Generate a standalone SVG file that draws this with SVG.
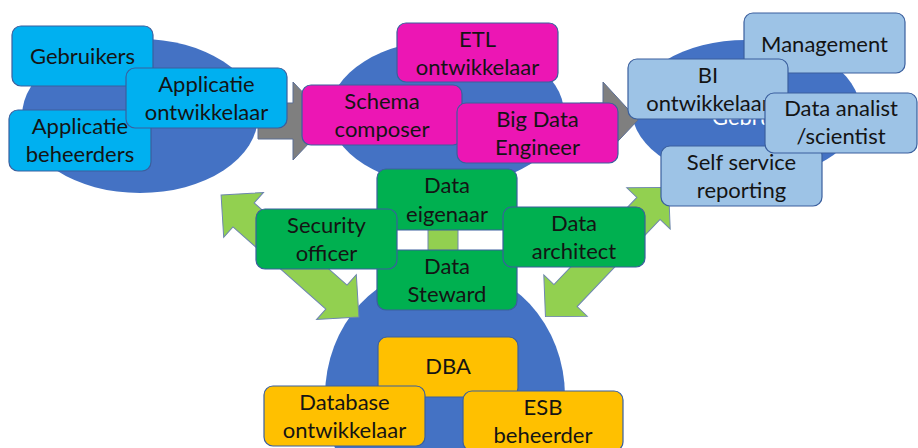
<svg xmlns="http://www.w3.org/2000/svg" width="918" height="448" viewBox="0 0 918 448">
  <style>
    .area { fill: #4472C4; }
    .box { stroke: #3A5F9E; stroke-width: 1.2; }
    .cyan { fill: #00B0F0; }
    .mag { fill: #EC16B4; }
    .pale { fill: #9DC3E6; }
    .grn { fill: #00B050; }
    .org { fill: #FFC000; }
    .flow { fill: #7F7F7F; stroke: #5B6E96; stroke-width: 1; }
    .link { fill: #92D050; stroke: #6E86B0; stroke-width: 1; }
    .lbl { font-family: Lato, "Liberation Sans", sans-serif; font-size: 22px; text-anchor: middle; fill: #141414; }
    .area-lbl { font-family: Lato, "Liberation Sans", sans-serif; font-size: 22px; fill: #FFFFFF; }
  </style>
  <defs>
    <!-- double-headed block arrow, tips at x = -92 and x = 92 -->
    <polygon id="dbl" points="-92,0 -62,-30 -62,-16 62,-16 62,-30 92,0 62,30 62,16 -62,16 -62,30"/>
  </defs>

  <!-- layer areas -->
  <g id="areas">
    <ellipse class="area" cx="140" cy="116" rx="118" ry="77"/>
    <ellipse class="area" cx="447" cy="113" rx="117" ry="73"/>
    <ellipse class="area" cx="746" cy="110" rx="114" ry="70"/>
    <ellipse class="area" cx="445" cy="396" rx="120" ry="130"/>
    <text class="area-lbl" x="712" y="125">Gebruikers</text>
  </g>

  <!-- connectors -->
  <g id="connectors">
    <polygon class="flow" points="258,103 293,103 293,82 330,121 293,160 293,139 258,139"/>
    <polygon class="flow" points="580,103 603,103 603,82 638,120 603,157 603,139 580,139"/>
    <use href="#dbl" class="link" transform="translate(290,256) rotate(41.5)"/>
    <use href="#dbl" class="link" transform="translate(607,252) rotate(-46.4) scale(0.97,1)"/>
    <rect class="link" x="428" y="222" width="30" height="36"/>
  </g>

  <!-- application layer -->
  <g id="n-gebruikers">
    <rect class="box cyan" x="12" y="26" width="141" height="60" rx="9"/>
    <text class="lbl" x="82.5" y="64">Gebruikers</text>
  </g>
  <g id="n-app-beheerders">
    <rect class="box cyan" x="9" y="110" width="142" height="61" rx="9"/>
    <text class="lbl" x="80" y="134">Applicatie</text>
    <text class="lbl" x="80" y="162">beheerders</text>
  </g>
  <g id="n-app-ontwikkelaar">
    <rect class="box cyan" x="126" y="68" width="161" height="60" rx="9"/>
    <text class="lbl" x="206.5" y="92">Applicatie</text>
    <text class="lbl" x="206.5" y="120">ontwikkelaar</text>
  </g>

  <!-- integration layer -->
  <g id="n-etl">
    <rect class="box mag" x="397" y="23" width="161" height="59" rx="9"/>
    <text class="lbl" x="477.5" y="47">ETL</text>
    <text class="lbl" x="477.5" y="75">ontwikkelaar</text>
  </g>
  <g id="n-schema">
    <rect class="box mag" x="302" y="85" width="160" height="60" rx="9"/>
    <text class="lbl" x="382" y="109">Schema</text>
    <text class="lbl" x="382" y="137">composer</text>
  </g>
  <g id="n-bigdata">
    <rect class="box mag" x="457" y="103" width="161" height="60" rx="9"/>
    <text class="lbl" x="537.5" y="127">Big Data</text>
    <text class="lbl" x="537.5" y="155">Engineer</text>
  </g>

  <!-- consumer layer -->
  <g id="n-management">
    <rect class="box pale" x="744" y="13" width="161" height="60" rx="9"/>
    <text class="lbl" x="824.5" y="52">Management</text>
  </g>
  <g id="n-bi">
    <rect class="box pale" x="628" y="59" width="160" height="60" rx="9"/>
    <text class="lbl" x="708" y="83">BI</text>
    <text class="lbl" x="708" y="111">ontwikkelaar</text>
  </g>
  <g id="n-self-service">
    <rect class="box pale" x="661" y="146" width="161" height="60" rx="9"/>
    <text class="lbl" x="741.5" y="170">Self service</text>
    <text class="lbl" x="741.5" y="198">reporting</text>
  </g>
  <g id="n-analist">
    <rect class="box pale" x="765" y="93" width="152" height="60" rx="9"/>
    <text class="lbl" x="841" y="116">Data analist</text>
    <text class="lbl" x="841" y="144">/scientist</text>
  </g>

  <!-- governance -->
  <g id="n-eigenaar">
    <rect class="box grn" x="377" y="169" width="140" height="61" rx="9"/>
    <text class="lbl" x="447" y="193">Data</text>
    <text class="lbl" x="447" y="222">eigenaar</text>
  </g>
  <g id="n-steward">
    <rect class="box grn" x="377" y="250" width="140" height="60" rx="9"/>
    <text class="lbl" x="447" y="274">Data</text>
    <text class="lbl" x="447" y="302">Steward</text>
  </g>
  <g id="n-security">
    <rect class="box grn" x="256" y="209" width="141" height="60" rx="9"/>
    <text class="lbl" x="326.5" y="233">Security</text>
    <text class="lbl" x="326.5" y="261">officer</text>
  </g>
  <g id="n-architect">
    <rect class="box grn" x="503" y="207" width="142" height="60" rx="9"/>
    <text class="lbl" x="574" y="231">Data</text>
    <text class="lbl" x="574" y="259">architect</text>
  </g>

  <!-- data layer -->
  <g id="n-dba">
    <rect class="box org" x="378" y="337" width="140" height="60" rx="9"/>
    <text class="lbl" x="448" y="374">DBA</text>
  </g>
  <g id="n-db-ontwikkelaar">
    <rect class="box org" x="264" y="386" width="161" height="60" rx="9"/>
    <text class="lbl" x="344.5" y="410">Database</text>
    <text class="lbl" x="344.5" y="438">ontwikkelaar</text>
  </g>
  <g id="n-esb">
    <rect class="box org" x="463" y="391" width="160" height="60" rx="9"/>
    <text class="lbl" x="543" y="415">ESB</text>
    <text class="lbl" x="543" y="443">beheerder</text>
  </g>
</svg>
